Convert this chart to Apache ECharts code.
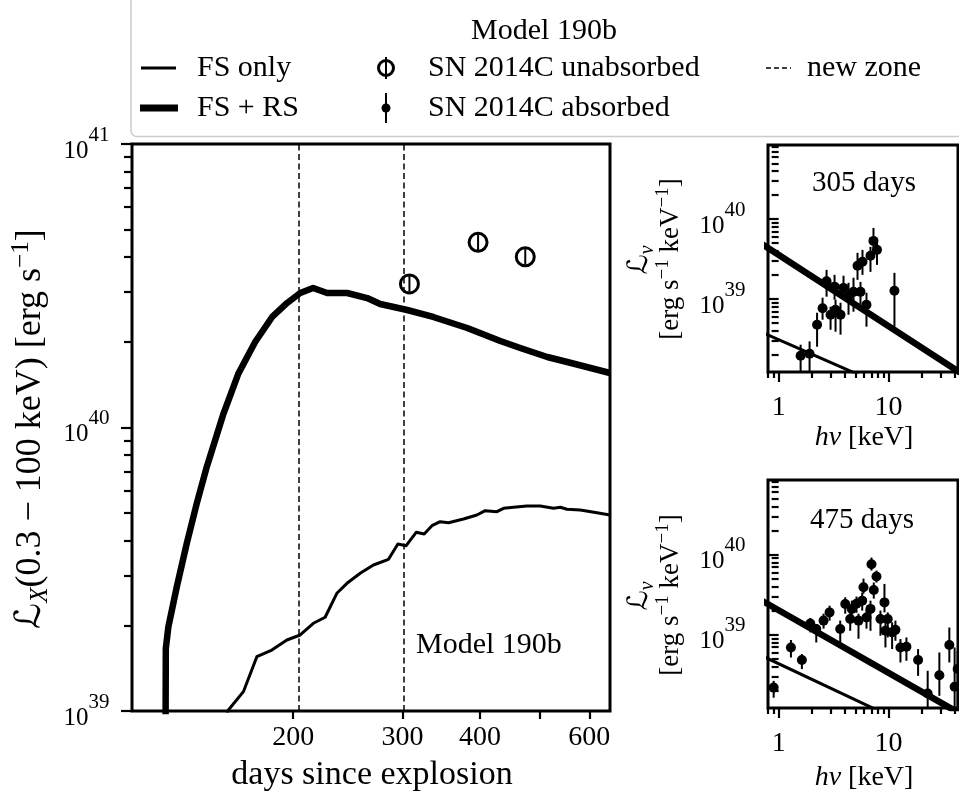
<!DOCTYPE html>
<html><head><meta charset="utf-8">
<script src="https://cdn.jsdelivr.net/npm/echarts@6/dist/echarts.min.js"></script>
<style>html,body{margin:0;padding:0;background:#fff}#c{width:959px;height:798px}</style>
</head><body><div id="c"></div>
<script>
// ---------------- data ----------------
// main panel: X-ray light curves of Model 190b
const fsrsDays = [124.5, 124.7, 125.9, 129.9, 134.8, 139.9, 145.2, 154.2, 163.1, 173.7, 185.0, 195.6, 205.3, 215.4, 226.9, 244.4, 263.2, 276.2, 305.4, 336.3, 381.5, 431.4, 464.5, 513.5, 553, 648];
const fsrsLum  = [5e38, 1.664e39, 1.983e39, 2.744e39, 3.905e39, 5.403e39, 7.273e39, 1.107e40, 1.544e40, 2.003e40, 2.454e40, 2.749e40, 2.982e40, 3.105e40, 2.982e40, 2.982e40, 2.862e40, 2.726e40, 2.597e40, 2.454e40, 2.244e40, 2.019e40, 1.907e40, 1.773e40, 1.702e40, 1.557e40];
const fsDays = [153.7, 157.3, 166.3, 174.8, 184.8, 195.4, 205.3, 215.6, 225.2, 235.2, 244.2, 256.5, 269.4, 284.9, 295, 304.2, 315.7, 325.2, 334.7, 345.1, 355.9, 376.3, 395.5, 407.8, 425.9, 436.5, 453, 476.1, 500.1, 525.6, 538.8, 552.4, 580.3, 617.3, 648];
const fsLum  = [8.57e38, 1.008e39, 1.170e39, 1.554e39, 1.641e39, 1.780e39, 1.854e39, 2.039e39, 2.141e39, 2.601e39, 2.821e39, 3.060e39, 3.273e39, 3.428e39, 3.882e39, 3.829e39, 4.269e39, 4.210e39, 4.504e39, 4.653e39, 4.616e39, 4.757e39, 4.914e39, 5.088e39, 5.047e39, 5.188e39, 5.230e39, 5.285e39, 5.285e39, 5.188e39, 5.230e39, 5.146e39, 5.117e39, 5.006e39, 4.914e39];
const obsDays = [307.9, 397.2, 473.2];
const obsLum  = [3.21e40, 4.50e40, 4.00e40];
const obsLo   = [3.01e40, 4.22e40, 3.76e40];
const obsHi   = [3.42e40, 4.80e40, 4.26e40];
const newZoneDays = [205, 305];

// inset 1: spectrum at 305 days
const s305E  = [1.585, 1.913, 2.239, 2.512, 2.732, 2.971, 3.298, 3.661, 3.229, 3.898, 4.329, 4.806, 5.227, 5.802, 5.565, 6.31, 6.862, 7.305, 7.862, 11.34];
const s305L  = [1.95e38, 2.07e38, 4.77e38, 7.67e38, 1.67e39, 6.36e38, 7.35e38, 6.36e38, 1.43e39, 1.38e39, 1.10e39, 1.23e39, 2.61e39, 2.93e39, 1.23e39, 8.49e38, 3.48e39, 5.35e39, 4.13e39, 1.27e39];
const s305Lo = [1.0e38, 1.0e38, 2.53e38, 5.51e38, 1.07e39, 4.13e38, 3.90e38, 3.58e38, 9.8e38, 9.8e38, 6.36e38, 6.94e38, 1.74e39, 2.01e39, 8.49e38, 4.51e38, 2.19e39, 3.79e39, 2.68e39, 4.51e38];
const s305Hi = [2.68e38, 2.95e38, 6.74e38, 1.04e39, 2.32e39, 8.01e38, 9.8e38, 9.0e38, 2.01e39, 1.96e39, 1.60e39, 1.85e39, 3.79e39, 4.13e39, 1.64e39, 1.20e39, 4.51e39, 7.78e39, 5.51e39, 2.13e39];
const m305ThickE = [0.7, 60];
const m305ThickL = [4.9e39, 9.3e37];
const m305ThinE  = [0.7, 20];
const m305ThinL  = [3.84e38, 5.1e37];

// inset 2: spectrum at 475 days
const s475E  = [0.901, 1.294, 1.628, 1.942, 2.201, 2.566, 2.909, 3.638, 4.041, 4.638, 4.486, 5.337, 5.117, 5.926, 5.768, 6.31, 7.006, 7.781, 7.352, 9.197, 6.862, 8.458, 9.855, 9.391, 10.8, 11.58, 12.86, 14.58, 18.62, 22.77, 29.09, 35.86, 40.06, 42.66];
const s475L  = [2.19e38, 6.94e38, 4.83e38, 1.38e39, 1.18e39, 1.50e39, 1.90e39, 1.18e39, 2.42e39, 2.10e39, 1.57e39, 1.50e39, 2.44e39, 3.90e39, 2.66e39, 1.64e39, 7.56e39, 5.31e39, 3.62e39, 2.53e39, 2.10e39, 1.57e39, 1.57e39, 1.12e39, 1.07e39, 1.15e39, 6.94e38, 7.08e38, 4.83e38, 1.85e38, 3.13e38, 7.43e38, 2.24e38, 3.73e38];
const s475Lo = [1.64e38, 5.20e38, 3.73e38, 1.07e39, 8.01e38, 1.19e39, 1.50e39, 7.65e38, 1.83e39, 1.58e39, 1.12e39, 8.91e38, 1.88e39, 3.25e39, 2.0e39, 1.19e39, 6.31e39, 4.47e39, 2.82e39, 1.90e39, 1.12e39, 9.72e38, 9.25e38, 6.94e38, 6.63e38, 8.41e38, 4.51e38, 4.73e38, 3.07e38, 1.12e38, 1.73e38, 4.51e38, 1.0e38, 1.0e38];
const s475Hi = [2.66e38, 8.59e38, 5.74e38, 1.62e39, 1.36e39, 1.83e39, 2.30e39, 1.50e39, 2.93e39, 2.66e39, 2.0e39, 1.83e39, 2.99e39, 5.01e39, 3.35e39, 2.11e39, 9.17e39, 6.31e39, 4.47e39, 4.30e39, 2.66e39, 2.0e39, 1.90e39, 1.50e39, 1.43e39, 1.50e39, 8.83e38, 9.25e38, 6.63e38, 3.55e38, 6.01e38, 1.23e39, 6.94e38, 6.31e38];
const m475ThickE = [0.7, 60];
const m475ThickL = [2.67e39, 8.28e37];
const m475ThinE  = [0.7, 20];
const m475ThinL  = [5.48e38, 6.3e37];

// axis ranges and ticks
const mainXRange = [110, 648];
const mainYRange = [1e39, 1e41];
const mainXTicks = [200, 300, 400, 500, 600];
const mainXLabels = [200, 300, 400, 600];
const mainYMajor = [1e39, 1e40, 1e41];
const mainYMinor = [2e39,3e39,4e39,5e39,6e39,7e39,8e39,9e39,2e40,3e40,4e40,5e40,6e40,7e40,8e40,9e40];
const insXRange = [0.8, 43];
const insYRange = [1.22e38, 8.5e40];
const insXMajor = [1, 10];
const insXMinor = [0.8,0.9,2,3,4,5,6,7,8,9,20,30,40];
const insYMajor = [1e39, 1e40];
const insYMinor = [2e38,3e38,4e38,5e38,6e38,7e38,8e38,9e38,2e39,3e39,4e39,5e39,6e39,7e39,8e39,9e39,2e40,3e40,4e40,5e40,6e40,7e40,8e40];

// ---------------- chart ----------------
const FONT = "'Liberation Serif','Times New Roman',serif";
const SCRIPT = "'DejaVu Serif','DejaVu Sans',serif";
const L10 = Math.log10;
const pairs = (xs, ys) => xs.map((x, i) => [L10(x), L10(ys[i])]);
const errData = (xs, ys, lo, hi) => xs.map((x, i) => [L10(x), L10(ys[i]), L10(lo[i]), L10(hi[i])]);

const makeSupRich = () => ({
  base: { fontFamily: FONT, fontSize: 25, color: '#000', lineHeight: 25, verticalAlign: 'bottom' },
  expo: { fontFamily: FONT, fontSize: 21, color: '#000', lineHeight: 21, verticalAlign: 'top' },
  pad: { fontFamily: FONT, fontSize: 2, lineHeight: 39 }
});
const supFmt = v => '{base|10}{expo|' + Math.round(v) + '}{pad| }';
const numFmt = v => String(Math.round(Math.pow(10, v) * 100) / 100);

function xAx(grid, range, ticks, len, labels, fs, margin) {
  return {
    type: 'value', gridIndex: grid, position: 'bottom', min: L10(range[0]), max: L10(range[1]),
    axisLine: { show: false }, splitLine: { show: false },
    axisTick: { show: true, customValues: ticks.map(L10), length: len, lineStyle: { color: '#000', width: 2.2 } },
    axisLabel: labels ? { show: true, customValues: labels.map(L10), formatter: numFmt, color: '#000', fontFamily: FONT, fontSize: fs, margin: margin } : { show: false }
  };
}
function yAx(grid, range, ticks, len, labels, margin) {
  return {
    type: 'value', gridIndex: grid, position: 'left', min: L10(range[0]), max: L10(range[1]),
    axisLine: { show: false }, splitLine: { show: false },
    axisTick: { show: true, customValues: ticks.map(L10), length: len, lineStyle: { color: '#000', width: 2.2 } },
    axisLabel: labels ? { show: true, customValues: labels.map(L10), formatter: supFmt, rich: makeSupRich(),
      fontFamily: FONT, color: '#000', margin: margin } : { show: false }
  };
}

function errRender(kind) {
  return function (params, api) {
    const x = api.value(0);
    const c = api.coord([x, api.value(1)]);
    const lo = api.coord([x, api.value(2)]);
    const hi = api.coord([x, api.value(3)]);
    const cs = params.coordSys;
    const clamp = v => Math.max(cs.y, Math.min(cs.y + cs.height, v));
    const children = [{ type: 'line', shape: { x1: c[0], y1: clamp(lo[1]), x2: c[0], y2: clamp(hi[1]) }, style: { stroke: '#000', lineWidth: 2 } }];
    if (kind === 'open') children.push({ type: 'circle', shape: { cx: c[0], cy: c[1], r: 9 }, style: { fill: 'none', stroke: '#000', lineWidth: 3 } });
    else children.push({ type: 'circle', shape: { cx: c[0], cy: c[1], r: 5 }, style: { fill: '#000' } });
    return { type: 'group', children: children };
  };
}
function lineSeries(xi, yi, data, w) {
  return { type: 'line', xAxisIndex: xi, yAxisIndex: yi, data: data, showSymbol: false, symbol: 'none', clip: true,
    lineStyle: { color: '#000', width: w, join: 'round' }, silent: true, z: 3 };
}
function errSeries(xi, yi, data, kind) {
  return { type: 'custom', xAxisIndex: xi, yAxisIndex: yi, data: data, renderItem: errRender(kind), encode: { x: 0, y: 1 }, silent: true, z: 5 };
}

function txt(x, y, text, size, opts) {
  opts = opts || {};
  return { type: 'text', x: x, y: y, z: 100, silent: true,
    style: { text: text, x: 0, y: 0, fill: '#000', font: size + 'px ' + FONT, fontFamily: FONT, fontSize: size,
      align: opts.align || 'center', textAlign: opts.align || 'center', verticalAlign: 'middle', textVerticalAlign: 'middle' } };
}

const richBase = (size) => ({
  t: { fontFamily: FONT, fontSize: size, color: '#000', lineHeight: size + 8 },
  L: { fontFamily: SCRIPT, fontStyle: 'italic', fontSize: size, color: '#000', lineHeight: size + 8 },
  i: { fontFamily: FONT, fontStyle: 'italic', fontSize: size, color: '#000', lineHeight: size + 8 },
  sub: { fontFamily: FONT, fontStyle: 'italic', fontSize: Math.round(size * 0.7), color: '#000', lineHeight: Math.round(size * 0.7), verticalAlign: 'bottom' },
  sup: { fontFamily: FONT, fontSize: Math.round(size * 0.7), color: '#000', lineHeight: Math.round(size * 0.7), verticalAlign: 'top' }
});
function richTxt(x, y, text, size, rot) {
  const el = { type: 'text', x: x, y: y, z: 100, silent: true,
    style: { text: text, x: 0, y: 0, rich: richBase(size), fill: '#000', fontFamily: FONT, fontSize: size,
      align: 'center', textAlign: 'center', verticalAlign: 'middle', textVerticalAlign: 'middle' } };
  if (rot) el.rotation = rot;
  return el;
}

const chart = echarts.init(document.getElementById('c'), null, { renderer: 'canvas' });
const gridStyle = { show: true, borderColor: '#000', borderWidth: 3, backgroundColor: 'transparent', containLabel: false, outerBoundsMode: 'none' };

const legendEls = [
  { type: 'rect', z: 90, silent: true, shape: { x: 131, y: -10, width: 840, height: 146.5, r: 6 }, style: { fill: '#fff', stroke: '#cccccc', lineWidth: 1.5 } },
  txt(544, 31, 'Model 190b', 30),
  { type: 'line', z: 100, silent: true, shape: { x1: 141, y1: 68, x2: 176, y2: 68 }, style: { stroke: '#000', lineWidth: 3 } },
  txt(197, 68, 'FS only', 30, { align: 'left' }),
  { type: 'line', z: 100, silent: true, shape: { x1: 140, y1: 108, x2: 178, y2: 108 }, style: { stroke: '#000', lineWidth: 7 } },
  txt(197, 108, 'FS + RS', 30, { align: 'left' }),
  { type: 'circle', z: 100, silent: true, shape: { cx: 386, cy: 68, r: 7.5 }, style: { fill: 'none', stroke: '#000', lineWidth: 3 } },
  { type: 'line', z: 100, silent: true, shape: { x1: 386, y1: 57, x2: 386, y2: 79 }, style: { stroke: '#000', lineWidth: 2 } },
  txt(428, 68, 'SN 2014C unabsorbed', 30, { align: 'left' }),
  { type: 'circle', z: 100, silent: true, shape: { cx: 386, cy: 108, r: 4.5 }, style: { fill: '#000' } },
  { type: 'line', z: 100, silent: true, shape: { x1: 386, y1: 93, x2: 386, y2: 123 }, style: { stroke: '#000', lineWidth: 2 } },
  txt(428, 108, 'SN 2014C absorbed', 30, { align: 'left' }),
  { type: 'line', z: 100, silent: true, shape: { x1: 766, y1: 68, x2: 791, y2: 68 }, style: { stroke: '#000', lineWidth: 1.5, lineDash: [5, 3] } },
  txt(807, 68, 'new zone', 30, { align: 'left' })
];

const textEls = [
  // white translucent box behind the in-panel label
  { type: 'rect', z: 20, silent: true, shape: { x: 405, y: 622, width: 195, height: 86 }, style: { fill: 'rgba(255,255,255,0.8)' } },
  txt(416, 645, 'Model 190b', 30, { align: 'left' }),
  txt(372, 775, 'days since explosion', 34),
  richTxt(31, 429, '{L|ℒ}{sub|X}{t|(0.3 − 100 keV) [erg s}{sup|−1}{t|]}', 36, Math.PI / 2),
  txt(864, 183, '305 days', 29),
  txt(862, 520, '475 days', 29),
  richTxt(640, 260, '{L|ℒ}{sub|ν}', 28, Math.PI / 2),
  richTxt(671, 259, '{t|[erg s}{sup|−1}{t| keV}{sup|−1}{t|]}', 27, Math.PI / 2),
  richTxt(640, 596, '{L|ℒ}{sub|ν}', 28, Math.PI / 2),
  richTxt(671, 595, '{t|[erg s}{sup|−1}{t| keV}{sup|−1}{t|]}', 27, Math.PI / 2),
  richTxt(864, 438, '{i|hν}{t| [keV]}', 28),
  richTxt(864, 778, '{i|hν}{t| [keV]}', 28)
];

const option = {
  animation: false,
  backgroundColor: '#fff',
  grid: [
    Object.assign({ left: 132, top: 144, width: 478, height: 567 }, gridStyle),
    Object.assign({ left: 768, top: 145, width: 190, height: 227 }, gridStyle),
    Object.assign({ left: 768, top: 480, width: 190, height: 228 }, gridStyle)
  ],
  xAxis: [
    xAx(0, mainXRange, mainXTicks, 8, mainXLabels, 28, 13),
    xAx(1, insXRange, insXMinor, 6, null),
    xAx(1, insXRange, insXMajor, 10, insXMajor, 28, 22),
    xAx(2, insXRange, insXMinor, 6, null),
    xAx(2, insXRange, insXMajor, 10, insXMajor, 28, 22)
  ],
  yAxis: [
    yAx(0, mainYRange, mainYMajor, 11, mainYMajor, 22),
    yAx(0, mainYRange, mainYMinor, 8, null),
    yAx(1, insYRange, insYMajor, 10, insYMajor, 22),
    yAx(1, insYRange, insYMinor, 7, null),
    yAx(2, insYRange, insYMajor, 10, insYMajor, 22),
    yAx(2, insYRange, insYMinor, 7, null)
  ],
  series: [
    Object.assign(lineSeries(0, 0, pairs(fsDays, fsLum), 3), {
      markLine: { silent: true, symbol: ['none', 'none'], label: { show: false }, animation: false,
        lineStyle: { color: '#000', width: 1.5, type: [6, 3.5] },
        data: newZoneDays.map(d => ({ xAxis: L10(d) })) }
    }),
    lineSeries(0, 0, pairs(fsrsDays, fsrsLum), 6.5),
    errSeries(0, 0, errData(obsDays, obsLum, obsLo, obsHi), 'open'),
    lineSeries(2, 2, pairs(m305ThickE, m305ThickL), 6.5),
    lineSeries(2, 2, pairs(m305ThinE, m305ThinL), 3),
    errSeries(2, 2, errData(s305E, s305L, s305Lo, s305Hi), 'filled'),
    lineSeries(4, 4, pairs(m475ThickE, m475ThickL), 6.5),
    lineSeries(4, 4, pairs(m475ThinE, m475ThinL), 3),
    errSeries(4, 4, errData(s475E, s475L, s475Lo, s475Hi), 'filled')
  ],
  graphic: { elements: legendEls.concat(textEls) }
};
chart.setOption(option);
</script></body></html>
